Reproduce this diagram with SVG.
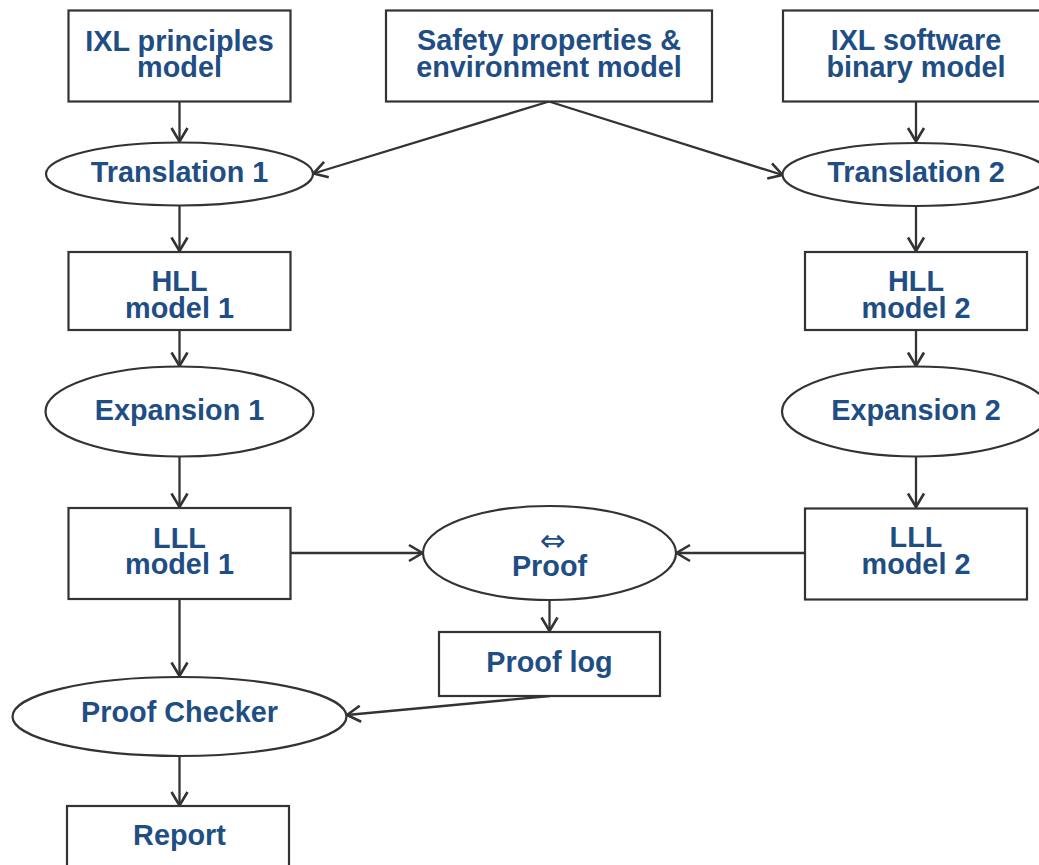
<svg xmlns="http://www.w3.org/2000/svg" width="1039" height="865" viewBox="0 0 1039 865">
<style>
.box{fill:#ffffff;stroke:#333333;stroke-width:2.2}
.lbl{font-family:"Liberation Sans",Arial,sans-serif;font-weight:bold;font-size:28.8px;fill:#1f4e84;text-anchor:middle}
.sym{font-family:"DejaVu Sans","Liberation Sans",sans-serif;font-size:31px;fill:#1f4e84;text-anchor:middle}
.edge{fill:none;stroke:#333333;stroke-width:2.3;marker-end:url(#arr)}
</style>
<defs>
<marker id="arr" markerUnits="userSpaceOnUse" markerWidth="24" markerHeight="24" viewBox="-16 -12 20 24" refX="0" refY="0" orient="auto">
<path d="M-13.5,-8 L0,0 L-13.5,8" fill="none" stroke="#333333" stroke-width="2.6"/>
</marker>
</defs>
<rect width="1039" height="865" fill="#ffffff"/>
<g id="connectors">
<line class="edge" x1="179.5" y1="101.5" x2="179.5" y2="141.5"/>
<line class="edge" x1="916" y1="101.5" x2="916" y2="141.5"/>
<line class="edge" x1="549" y1="101.5" x2="313.5" y2="173.5"/>
<line class="edge" x1="549" y1="101.5" x2="782.5" y2="175"/>
<line class="edge" x1="179.5" y1="205.5" x2="179.5" y2="251"/>
<line class="edge" x1="916" y1="205.5" x2="916" y2="251"/>
<line class="edge" x1="179.5" y1="330" x2="179.5" y2="366"/>
<line class="edge" x1="916" y1="330" x2="916" y2="366"/>
<line class="edge" x1="179.5" y1="457" x2="179.5" y2="507"/>
<line class="edge" x1="916" y1="457" x2="916" y2="507"/>
<line class="edge" x1="290.5" y1="553" x2="422.5" y2="553"/>
<line class="edge" x1="805" y1="553" x2="676.5" y2="553"/>
<line class="edge" x1="549.5" y1="600" x2="549.5" y2="631"/>
<line class="edge" x1="179.5" y1="599" x2="179.5" y2="676"/>
<line class="edge" x1="550" y1="696" x2="347" y2="715"/>
<line class="edge" x1="179.5" y1="756" x2="179.5" y2="805.5"/>
</g>
<g id="n-ixl-principles">
<rect class="box" x="68.5" y="10.5" width="222" height="91"/>
<text class="lbl" x="179.5" y="50.5">IXL principles</text>
<text class="lbl" x="179.5" y="77">model</text>
</g>
<g id="n-safety">
<rect class="box" x="386" y="10.5" width="326" height="91"/>
<text class="lbl" x="549" y="50">Safety properties &amp;</text>
<text class="lbl" x="549" y="76.5">environment model</text>
</g>
<g id="n-ixl-software">
<rect class="box" x="783" y="10.5" width="266" height="91"/>
<text class="lbl" x="916" y="50">IXL software</text>
<text class="lbl" x="916" y="76.5">binary model</text>
</g>
<g id="n-translation1">
<ellipse class="box" cx="179.5" cy="174" rx="133.5" ry="31.5"/>
<text class="lbl" x="179.5" y="181.5">Translation 1</text>
</g>
<g id="n-translation2">
<ellipse class="box" cx="916" cy="174.5" rx="133.5" ry="31.5"/>
<text class="lbl" x="916" y="182">Translation 2</text>
</g>
<g id="n-hll1">
<rect class="box" x="68.5" y="252" width="222" height="78"/>
<text class="lbl" x="179.5" y="291">HLL</text>
<text class="lbl" x="179.5" y="317.5">model 1</text>
</g>
<g id="n-hll2">
<rect class="box" x="805" y="252" width="222" height="78"/>
<text class="lbl" x="916" y="291">HLL</text>
<text class="lbl" x="916" y="317.5">model 2</text>
</g>
<g id="n-expansion1">
<ellipse class="box" cx="179.5" cy="411.5" rx="134" ry="45"/>
<text class="lbl" x="179.5" y="420">Expansion 1</text>
</g>
<g id="n-expansion2">
<ellipse class="box" cx="916" cy="411.5" rx="134" ry="45"/>
<text class="lbl" x="916" y="420">Expansion 2</text>
</g>
<g id="n-lll1">
<rect class="box" x="68.5" y="508" width="222" height="91"/>
<text class="lbl" x="179.5" y="547.5">LLL</text>
<text class="lbl" x="179.5" y="574">model 1</text>
</g>
<g id="n-lll2">
<rect class="box" x="805" y="508.5" width="222" height="91"/>
<text class="lbl" x="916" y="547">LLL</text>
<text class="lbl" x="916" y="573.5">model 2</text>
</g>
<g id="n-proof">
<ellipse class="box" cx="549.5" cy="553" rx="126.5" ry="47"/>
<text class="sym" x="553" y="551">⇔</text>
<text class="lbl" x="549.5" y="576">Proof</text>
</g>
<g id="n-prooflog">
<rect class="box" x="439" y="632" width="221" height="64"/>
<text class="lbl" x="549.5" y="671.5">Proof log</text>
</g>
<g id="n-proofchecker">
<ellipse class="box" cx="179.5" cy="716.5" rx="167" ry="39.5"/>
<text class="lbl" x="179.5" y="721.5">Proof Checker</text>
</g>
<g id="n-report">
<rect class="box" x="67" y="806" width="222" height="80"/>
<text class="lbl" x="179.5" y="845">Report</text>
</g>
</svg>
